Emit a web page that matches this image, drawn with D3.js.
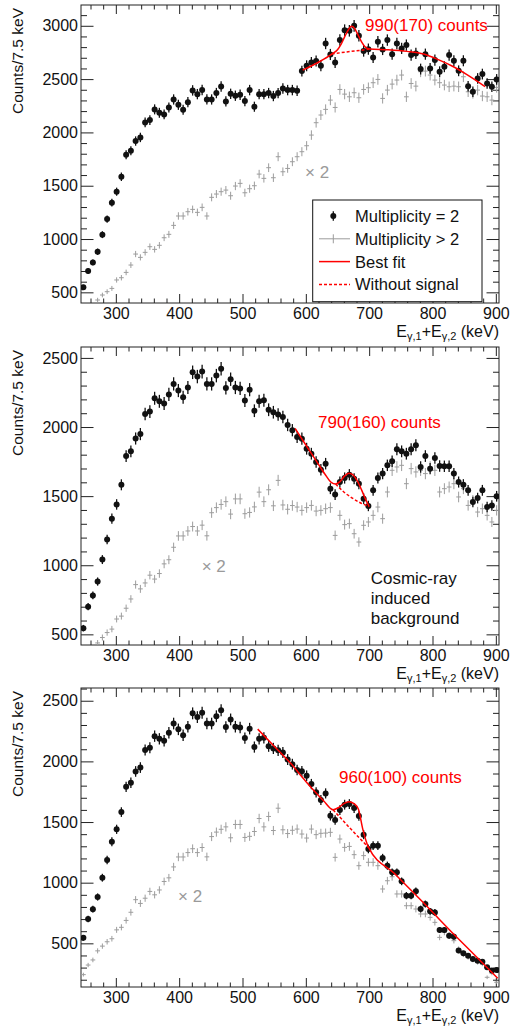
<!DOCTYPE html>
<html>
<head>
<meta charset="utf-8">
<script src="https://cdn.jsdelivr.net/npm/d3@7"></script>
<style>
  body { margin: 0; background: #fff; }
  svg { display: block; font-family: "Liberation Sans", Arial, Helvetica, sans-serif; }
</style>
</head>
<body>
<div id="chart"></div>
<script>
// histogram: 88 bins of 7.5 keV between 245 and 905 keV
const binStart = 245
const binWidth = 7.5
const nBins = 88

// top panel, multiplicity = 2 / > 2 (x2)
const p1Black = [547, 700, 781, 881, 1041, 1187, 1341, 1444, 1584, 1791, 1828, 1919, 1953, 2094, 2116,
  2216, 2184, 2169, 2234, 2309, 2259, 2212, 2284, 2394, 2359, 2397, 2309, 2309, 2369, 2431,
  2291, 2362, 2344, 2353, 2294, 2397, 2241, 2359, 2359, 2369, 2341, 2369, 2412, 2397, 2397,
  2391, 2575, 2625, 2656, 2669, 2625, 2834, 2731, 2656, 2866, 2959, 2953, 3000, 2906, 2763,
  2781, 2703, 2850, 2778, 2866, 2734, 2834, 2788, 2819, 2725, 2741, 2594, 2734, 2600, 2678,
  2569, 2616, 2725, 2672, 2578, 2672, 2434, 2381, 2506, 2547, 2459, 2428, 2497]
const p1Grey = [242, 321, 363, 428, 475, 506, 537, 616, 637, 687, 756, 859, 828, 875, 928,
  903, 941, 1012, 1044, 1128, 1216, 1216, 1256, 1278, 1250, 1297, 1216, 1391, 1422, 1444,
  1459, 1406, 1497, 1522, 1434, 1472, 1500, 1609, 1569, 1669, 1575, 1772, 1631, 1662, 1725,
  1772, 1819, 1875, 1975, 2091, 2163, 2216, 2303, 2234, 2403, 2359, 2334, 2372, 2325, 2403,
  2419, 2466, 2497, 2319, 2397, 2453, 2491, 2538, 2334, 2459, 2434, 2569, 2575, 2538, 2491,
  2466, 2444, 2428, 2434, 2428, 2522, 2381, 2366, 2397, 2341, 2334, 2303, 2422]

// middle and bottom panels share the first 45 bins
const lowBlack = [545, 700, 782, 882, 1041, 1187, 1337, 1440, 1582, 1790, 1824, 1917, 1949, 2094, 2112,
  2208, 2186, 2170, 2236, 2312, 2264, 2215, 2286, 2396, 2365, 2401, 2312, 2312, 2372, 2422,
  2283, 2346, 2286, 2279, 2192, 2270, 2118, 2186, 2194, 2125, 2107, 2091, 2073, 2015, 1977]
const lowGrey = [242, 321, 363, 438, 477, 513, 538, 611, 632, 689, 756, 860, 829, 872, 928,
  900, 940, 1010, 1040, 1130, 1212, 1212, 1248, 1280, 1248, 1290, 1213, 1380, 1417, 1440,
  1460, 1370, 1480, 1480, 1373, 1382, 1422, 1529, 1460, 1546, 1430, 1614, 1436, 1405, 1432]

const p2BlackHigh = [1928, 1916, 1843, 1807, 1747, 1691, 1735, 1554, 1511, 1602,
  1631, 1655, 1626, 1590, 1482, 1429, 1542, 1631, 1663, 1723,
  1752, 1839, 1824, 1807, 1839, 1868, 1711, 1790, 1699, 1776,
  1718, 1716, 1716, 1663, 1602, 1583, 1542, 1458, 1486, 1542, 1421, 1433, 1499]
const p2GreyHigh = [1421, 1397, 1417, 1433, 1392, 1397, 1409, 1417, 1216, 1361,
  1294, 1301, 1228, 1168, 1289, 1313, 1361, 1421, 1337, 1530,
  1687, 1711, 1723, 1590, 1699, 1675, 1687, 1663, 1711, 1687,
  1530, 1554, 1566, 1590, 1494, 1554, 1433, 1470, 1385, 1409, 1361, 1313, 1397]

const p3BlackHigh = [1929, 1918, 1882, 1813, 1745, 1681, 1736, 1552, 1516, 1599,
  1643, 1648, 1615, 1550, 1396, 1278, 1305, 1305, 1203, 1140,
  1085, 1085, 1011, 893, 893, 929, 783, 824, 764, 755,
  610, 610, 563, 555, 440, 418, 398, 371, 357, 349, 302, 275, 280]
const p3GreyHigh = [1442, 1401, 1368, 1442, 1396, 1407, 1409, 1415, 1209, 1360,
  1291, 1299, 1231, 1140, 1223, 1168, 1168, 1140, 948, 1016,
  1049, 907, 907, 810, 810, 783, 742, 742, 714, 673,
  549, 591, 563, 522, 453, 407, 385, 363, 343, 330, 220, 253, 179]

// fit curves, [keV, counts]
const fit1 = [[595, 2584], [622, 2665], [641, 2735], [650, 2775], [656, 2830], [662, 2905], [668, 2970],
  [672, 2995], [677, 2975], [682, 2920], [688, 2850], [694, 2800], [701, 2782], [730, 2775],
  [760, 2760], [786, 2735], [810, 2680], [830, 2625], [855, 2540], [883, 2430]]
const bg1 = [[641, 2735], [656, 2748], [672, 2760], [686, 2770], [701, 2782]]
const fit2 = [[583, 1990], [600, 1870], [617, 1752], [630, 1660], [640, 1600], [647, 1588], [654, 1605],
  [661, 1645], [668, 1665], [674, 1655], [681, 1612], [688, 1545], [694, 1480], [700, 1425]]
const bg2 = [[647, 1588], [660, 1530], [672, 1490], [686, 1452], [700, 1425]]
const fit3 = [[524, 2266], [550, 2125], [575, 1990], [600, 1835], [628, 1676], [643, 1602], [652, 1620],
  [660, 1652], [668, 1668], [676, 1652], [683, 1605], [690, 1440], [699, 1291], [740, 1075],
  [785, 838], [838, 552], [870, 385], [903, 212]]
const bg3 = [[643, 1602], [670, 1448], [699, 1291]]

const xMajor = [300, 400, 500, 600, 700, 800, 900]
const legendLabels = ["Multiplicity = 2", "Multiplicity > 2", "Best fit", "Without signal"]
const cosmicLines = ["Cosmic-ray", "induced", "background"]

const centers = d3.range(nBins).map(k => binStart + binWidth * (k + 0.5))

const panels = [
  {top: 5, bottom: 303, yDomain: [400, 3195], black: p1Black, grey: p1Grey, fit: fit1, bg: bg1,
   yMajor: [500, 1000, 1500, 2000, 2500, 3000], yMinor: d3.range(400, 3200, 100),
   result: "990(170) counts", resultPos: [365, 26], timesPos: [305, 172.5], legend: true},
  {top: 347, bottom: 645, yDomain: [423, 2579], black: lowBlack.concat(p2BlackHigh), grey: lowGrey.concat(p2GreyHigh),
   fit: fit2, bg: bg2, yMajor: [500, 1000, 1500, 2000, 2500], yMinor: d3.range(500, 2600, 100),
   result: "790(160) counts", resultPos: [318, 80.5], timesPos: [201.7, 225], cosmic: true},
  {top: 688, bottom: 987, yDomain: [140, 2605], black: lowBlack.concat(p3BlackHigh), grey: lowGrey.concat(p3GreyHigh),
   fit: fit3, bg: bg3, yMajor: [500, 1000, 1500, 2000, 2500], yMinor: d3.range(200, 2700, 100),
   result: "960(100) counts", resultPos: [339, 94.5], timesPos: [178, 214]}
]

const W = 512, H = 1028
const left = 81, right = 499
const svg = d3.select("#chart").append("svg").attr("width", W).attr("height", H)

const x = d3.scaleLinear().domain([binStart, binStart + nBins * binWidth]).range([left, right])
const xMinor = d3.range(260, 905, 20).filter(v => !xMajor.includes(v))
const fmt = d3.format("d")

panels.forEach((p, i) => {
  const y = d3.scaleLinear().domain(p.yDomain).range([p.bottom, p.top])
  const g = svg.append("g")
  const clipId = "clip" + i
  g.append("clipPath").attr("id", clipId).append("rect")
    .attr("x", left).attr("y", p.top).attr("width", right - left).attr("height", p.bottom - p.top)

  // axes with ROOT style inward ticks on all four sides
  const axisStyle = a => a.call(s => s.select(".domain").remove())
    .call(s => s.selectAll("line").attr("stroke", "#222"))
    .call(s => s.selectAll("text").attr("fill", "#111").attr("font-size", 16).attr("font-family", null))

  g.append("g").attr("transform", `translate(0,${p.bottom})`)
    .call(d3.axisBottom(x).tickValues(xMajor).tickFormat(fmt).tickSize(-9).tickPadding(5).tickSizeOuter(0)).call(axisStyle)
  g.append("g").attr("transform", `translate(0,${p.bottom})`)
    .call(d3.axisBottom(x).tickValues(xMinor).tickSize(-4.5).tickFormat("").tickSizeOuter(0)).call(axisStyle)
  g.append("g").attr("transform", `translate(0,${p.top})`)
    .call(d3.axisTop(x).tickValues(xMajor).tickSize(-9).tickFormat("").tickSizeOuter(0)).call(axisStyle)
  g.append("g").attr("transform", `translate(0,${p.top})`)
    .call(d3.axisTop(x).tickValues(xMinor).tickSize(-4.5).tickFormat("").tickSizeOuter(0)).call(axisStyle)

  const yMinor = p.yMinor.filter(v => !p.yMajor.includes(v) && v > p.yDomain[0] && v < p.yDomain[1])
  g.append("g").attr("transform", `translate(${left},0)`)
    .call(d3.axisLeft(y).tickValues(p.yMajor).tickFormat(fmt).tickSize(-12.5).tickPadding(3).tickSizeOuter(0)).call(axisStyle)
  g.append("g").attr("transform", `translate(${left},0)`)
    .call(d3.axisLeft(y).tickValues(yMinor).tickSize(-6).tickFormat("").tickSizeOuter(0)).call(axisStyle)
  g.append("g").attr("transform", `translate(${right},0)`)
    .call(d3.axisRight(y).tickValues(p.yMajor).tickSize(-12.5).tickFormat("").tickSizeOuter(0)).call(axisStyle)
  g.append("g").attr("transform", `translate(${right},0)`)
    .call(d3.axisRight(y).tickValues(yMinor).tickSize(-6).tickFormat("").tickSizeOuter(0)).call(axisStyle)

  g.append("rect").attr("x", left).attr("y", p.top).attr("width", right - left).attr("height", p.bottom - p.top)
    .attr("fill", "none").attr("stroke", "#222").attr("stroke-width", 1)

  // titles
  g.append("text").attr("transform", `translate(23,${p.top + 3}) rotate(-90)`)
    .attr("text-anchor", "end").attr("font-size", 15.5).attr("fill", "#111").text("Counts/7.5 keV")
  const xt = g.append("text").attr("x", right).attr("y", p.bottom + 33.5).attr("text-anchor", "end")
    .attr("font-size", 16).attr("fill", "#111")
  xt.append("tspan").text("E")
  xt.append("tspan").attr("dy", 3.5).attr("font-size", 11).text("γ,1")
  xt.append("tspan").attr("dy", -3.5).text("+E")
  xt.append("tspan").attr("dy", 3.5).attr("font-size", 11).text("γ,2")
  xt.append("tspan").attr("dy", -3.5).text(" (keV)")

  const plot = g.append("g").attr("clip-path", `url(#${clipId})`)
  const greyData = p.grey.map((v, k) => ({c: centers[k], v}))
  const blackData = p.black.map((v, k) => ({c: centers[k], v}))

  const gc = plot.append("g").attr("stroke", "#9c9c9c").attr("stroke-width", 1)
  gc.selectAll("line.h").data(greyData).join("line").attr("class", "h")
    .attr("x1", d => x(d.c - binWidth / 2)).attr("x2", d => x(d.c + binWidth / 2))
    .attr("y1", d => y(d.v)).attr("y2", d => y(d.v))
  gc.selectAll("line.v").data(greyData).join("line").attr("class", "v")
    .attr("x1", d => x(d.c)).attr("x2", d => x(d.c))
    .attr("y1", d => y(d.v - Math.sqrt(d.v))).attr("y2", d => y(d.v + Math.sqrt(d.v)))

  const bc = plot.append("g")
  bc.selectAll("line").data(blackData).join("line")
    .attr("x1", d => x(d.c)).attr("x2", d => x(d.c))
    .attr("y1", d => y(d.v - Math.sqrt(d.v))).attr("y2", d => y(d.v + Math.sqrt(d.v)))
    .attr("stroke", "#111").attr("stroke-width", 1.3)
  bc.selectAll("circle").data(blackData).join("circle")
    .attr("cx", d => x(d.c)).attr("cy", d => y(d.v)).attr("r", 3).attr("fill", "#111")

  const line = d3.line().x(d => x(d[0])).y(d => y(d[1])).curve(d3.curveMonotoneX)
  plot.append("path").attr("d", line(p.bg)).attr("fill", "none").attr("stroke", "#ff0000")
    .attr("stroke-width", 1.5).attr("stroke-dasharray", "3,2")
  plot.append("path").attr("d", line(p.fit)).attr("fill", "none").attr("stroke", "#ff0000")
    .attr("stroke-width", 1.5)

  g.append("text").attr("x", p.resultPos[0]).attr("y", p.top + p.resultPos[1])
    .attr("font-size", 17).attr("fill", "#ff0000").text(p.result)
  g.append("text").attr("x", p.timesPos[0]).attr("y", p.top + p.timesPos[1])
    .attr("font-size", 17).attr("fill", "#9a9a9a").text("× 2")

  if (p.cosmic) {
    g.append("g").selectAll("text").data(cosmicLines).join("text")
      .attr("x", 370.7).attr("y", (d, j) => p.top + 237 + j * 20)
      .attr("font-size", 17).attr("fill", "#111").text(d => d)
  }

  if (p.legend) {
    const lg = g.append("g")
    const ly = p.top + 195
    lg.append("rect").attr("x", 312.7).attr("y", ly).attr("width", 169.3).attr("height", 101.7)
      .attr("fill", "#fff").attr("stroke", "#111").attr("stroke-width", 1)
    const rows = legendLabels.map((t, j) => ({t, cy: ly + 16 + j * 22.8}))
    lg.selectAll("text").data(rows).join("text")
      .attr("x", 355).attr("y", d => d.cy + 6).attr("font-size", 16.5).attr("fill", "#111").text(d => d.t)
    const mx = 333.3, x0 = 319, x1 = 350
    lg.append("line").attr("x1", mx).attr("x2", mx).attr("y1", rows[0].cy - 4.7).attr("y2", rows[0].cy + 4.7)
      .attr("stroke", "#111").attr("stroke-width", 1.3)
    lg.append("circle").attr("cx", mx).attr("cy", rows[0].cy).attr("r", 3).attr("fill", "#111")
    lg.append("line").attr("x1", x0).attr("x2", x1).attr("y1", rows[1].cy).attr("y2", rows[1].cy)
      .attr("stroke", "#9c9c9c")
    lg.append("line").attr("x1", mx).attr("x2", mx).attr("y1", rows[1].cy - 4.5).attr("y2", rows[1].cy + 4.5)
      .attr("stroke", "#9c9c9c")
    lg.append("line").attr("x1", x0).attr("x2", x1).attr("y1", rows[2].cy).attr("y2", rows[2].cy)
      .attr("stroke", "#ff0000").attr("stroke-width", 1.5)
    lg.append("line").attr("x1", x0).attr("x2", x1).attr("y1", rows[3].cy).attr("y2", rows[3].cy)
      .attr("stroke", "#ff0000").attr("stroke-width", 1.5).attr("stroke-dasharray", "3,2")
  }
})
</script>
</body>
</html>
